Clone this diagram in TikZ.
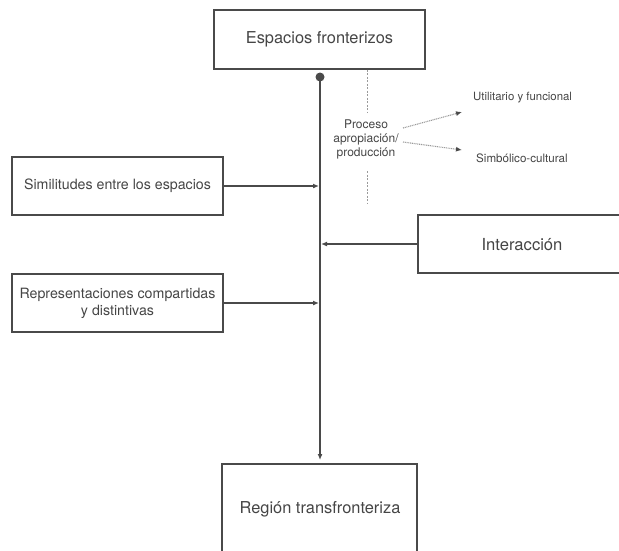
\documentclass[tikz,border=0pt]{standalone}
\usepackage{fontspec}
\setmainfont{TeX Gyre Heros}
\usetikzlibrary{arrows.meta}
\definecolor{linec}{HTML}{4A4A4A}
\definecolor{textc}{HTML}{454545}
\definecolor{dashc}{HTML}{9A9A9A}
\tikzset{
  box/.style={draw=linec, line width=1.5pt, rectangle, inner sep=0pt, text=textc, align=center},
  conn/.style={draw=linec, line width=1.4pt, -{Latex[length=6pt,width=5pt]}},
  dashln/.style={draw=dashc, line width=0.8pt, dash pattern=on 2pt off 1.5pt},
  dotarr/.style={draw=dashc, line width=1.1pt, dash pattern=on 1pt off 0.8pt, -{Latex[length=6pt,width=5pt,color=linec]}},
  lbl/.style={text=textc, inner sep=0pt, align=center},
}
\begin{document}
\begin{tikzpicture}[x=1pt,y=-1pt]
\useasboundingbox (0,0) rectangle (619,550);
\clip (0,0) rectangle (619,550);
\node[box, minimum width=211pt, minimum height=59pt, font=\fontsize{16.4}{19}\selectfont] (top) at (319.5,39.5) {Espacios fronterizos};
\node[box, minimum width=211pt, minimum height=58pt, font=\fontsize{14.2}{16}\selectfont] (sim) at (117.5,186) {Similitudes entre los espacios};
\node[box, minimum width=211pt, minimum height=58pt, font=\fontsize{14.2}{17}\selectfont] (rep) at (117.5,303) {Representaciones compartidas\\y distintivas};
\node[box, minimum width=210pt, minimum height=58pt, anchor=west] (int) at (417,244) {};
\node[lbl, font=\fontsize{16.6}{19}\selectfont] (intl) at (522,245) {Interacción};
\node[box, minimum width=195pt, minimum height=92pt, anchor=north] (reg) at (319.5,463) {};
\node[lbl, font=\fontsize{16.4}{19}\selectfont] (regl) at (320,509) {Región transfronteriza};
\fill[linec] (320,77) circle (4.5pt);
\coordinate (dot) at (320,77);
\coordinate (tip) at (320,460);
\draw[conn] (dot) -- (tip);
\coordinate (simend) at (319,186);
\coordinate (repend) at (319,303);
\coordinate (intend) at (321,244);
\draw[conn] (sim.east) -- (simend);
\draw[conn] (rep.east) -- (repend);
\draw[conn] (int.west) -- (intend);
\node[lbl, font=\fontsize{12}{14}\selectfont] (proc) at (366,139) {Proceso\\apropiación/\\producción};
\coordinate (d1) at (367,69.5);
\coordinate (d2) at (367,112);
\coordinate (d3) at (367,171);
\coordinate (d4) at (367,204);
\draw[dashln] (d1) -- (d2);
\draw[dashln] (d3) -- (d4);
\node[lbl, font=\fontsize{11.4}{13}\selectfont, anchor=west] (util) at (473,98) {Utilitario y funcional};
\node[lbl, font=\fontsize{11.6}{13}\selectfont, anchor=west] (simb) at (476,158) {Simbólico-cultural};
\coordinate (a1) at (403,128);
\coordinate (a2) at (462,112);
\coordinate (b1) at (403,142);
\coordinate (b2) at (462,150);
\draw[dotarr] (a1) -- (a2);
\draw[dotarr] (b1) -- (b2);
\end{tikzpicture}
\end{document}
